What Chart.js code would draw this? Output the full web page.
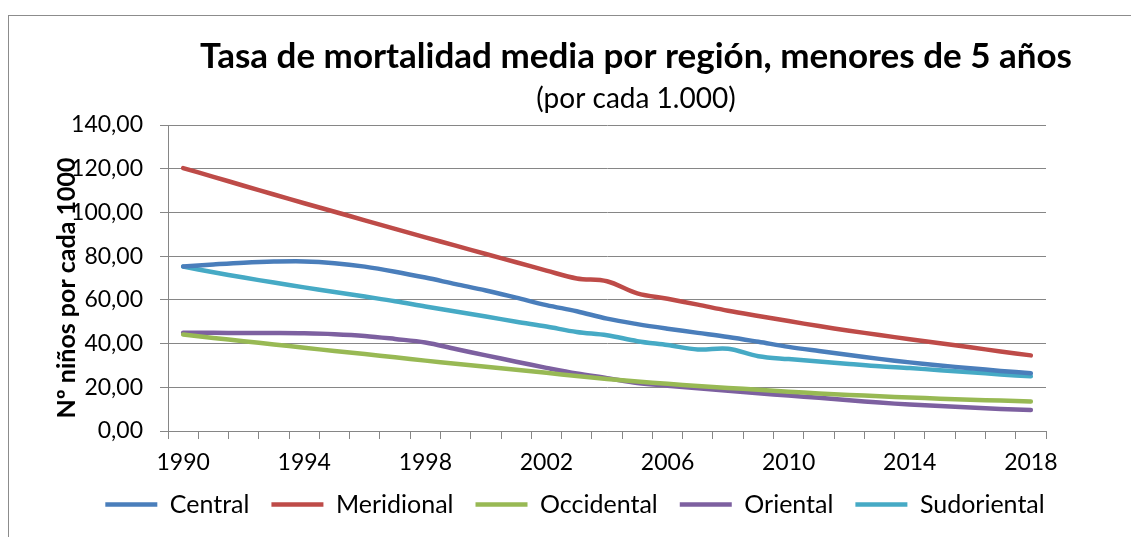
<!DOCTYPE html>
<html>
<head>
<meta charset="utf-8">
<script src="https://cdn.jsdelivr.net/npm/chart.js@4.4.1/dist/chart.umd.min.js"></script>
<style>
  html, body { margin: 0; padding: 0; background: #fff; }
  #wrap { position: relative; width: 1131px; height: 537px; overflow: hidden; }
  #frame { position: absolute; left: 8px; top: 15px; right: -2px; bottom: -2px; border-left: 1px solid #8c8c8c; border-top: 1px solid #8c8c8c; }
  #myChart { position: absolute; left: 0; top: 0; }
</style>
</head>
<body>
<div id="wrap">
  <div id="frame"></div>
  <canvas id="myChart" width="1131" height="537"></canvas>
</div>
<script>
const years = ["1990", "1991", "1992", "1993", "1994", "1995", "1996", "1997", "1998", "1999",
  "2000", "2001", "2002", "2003", "2004", "2005", "2006", "2007", "2008", "2009",
  "2010", "2011", "2012", "2013", "2014", "2015", "2016", "2017", "2018"];
const tickYears = ["1990", "1994", "1998", "2002", "2006", "2010", "2014", "2018"];

const central = [75.3, 76.2, 77.0, 77.5, 77.6, 76.8, 75.2, 72.9, 70.2, 67.2,
  64.3, 61.0, 57.6, 54.8, 51.4, 48.9, 46.8, 44.9, 43.0, 40.8,
  38.5, 36.6, 34.8, 33.0, 31.4, 30.0, 28.7, 27.5, 26.4];
const meridional = [120.3, 116.3, 112.2, 108.2, 104.2, 100.3, 96.4, 92.5, 88.6, 84.8,
  81.0, 77.2, 73.4, 69.8, 68.5, 63.0, 60.5, 57.8, 55.0, 52.6,
  50.3, 48.0, 45.9, 43.9, 42.0, 40.1, 38.3, 36.4, 34.6];
const occidental = [44.1, 42.6, 41.1, 39.6, 38.1, 36.6, 35.2, 33.7, 32.2, 30.8,
  29.4, 28.0, 26.6, 25.2, 23.8, 22.6, 21.6, 20.6, 19.7, 18.9,
  18.0, 17.2, 16.5, 15.9, 15.3, 14.8, 14.3, 13.9, 13.5];
const oriental = [45.0, 44.9, 44.8, 44.8, 44.7, 44.3, 43.5, 42.1, 40.5, 37.5,
  34.6, 31.7, 28.9, 26.3, 24.2, 22.0, 20.7, 19.6, 18.4, 17.3,
  16.2, 15.2, 14.1, 13.0, 12.1, 11.4, 10.7, 10.1, 9.6];
const sudoriental = [75.2, 72.6, 70.2, 67.9, 65.7, 63.6, 61.5, 59.4, 57.0, 54.7,
  52.4, 50.0, 47.8, 45.3, 43.8, 41.1, 39.3, 37.3, 37.6, 34.2,
  32.9, 31.8, 30.7, 29.6, 28.8, 27.8, 26.9, 25.9, 25.0];

const titleText = "Tasa de mortalidad media por región, menores de 5 años";
const subtitleText = "(por cada 1.000)";
const yTitle = "Nº niños por cada 1000";

const FONT = "Lato";
const GREY = "#868686";

function line(label, values, color) {
  return {
    label: label,
    data: values,
    borderColor: color,
    backgroundColor: color,
    borderWidth: 4.5,
    borderCapStyle: "round",
    borderJoinStyle: "round",
    pointRadius: 0,
    tension: 0.35,
    fill: false,
  };
}

const data = {
  labels: years,
  datasets: [
    line("Central", central, "#4A7EBB"),
    line("Meridional", meridional, "#BE4B48"),
    line("Occidental", occidental, "#98B954"),
    line("Oriental", oriental, "#7D60A0"),
    line("Sudoriental", sudoriental, "#46AAC5"),
  ],
};

// titles and rotated y title drawn by hand (Excel places them off-centre)
const textPlugin = {
  id: "texts",
  afterLayout(chart) {
    // the legend sits a bit right of the canvas centre in the original
    const lg = chart.legend;
    const shift = 575 - (lg.left + lg.right) / 2;
    lg.left += shift;
    lg.right += shift;
    lg.top -= 6;
    lg.bottom -= 6;
  },
  afterDraw(chart) {
    const ctx = chart.ctx;
    ctx.save();
    ctx.fillStyle = "#000";
    ctx.textAlign = "center";
    ctx.textBaseline = "alphabetic";
    ctx.font = "bold 35px " + FONT;
    ctx.fillText(titleText, 636, 68);
    ctx.font = "28px " + FONT;
    ctx.fillText(subtitleText, 636, 108);
    ctx.translate(67, 288);
    ctx.rotate(-Math.PI / 2);
    ctx.textBaseline = "middle";
    ctx.font = "bold 25px " + FONT;
    ctx.fillText(yTitle, 0, 0);
    ctx.restore();
  },
};

const config = {
  type: "line",
  data,
  options: {
    responsive: false,
    animation: false,
    layout: {
      padding: { left: 0, right: 85, top: 125, bottom: 4 },
    },
    scales: {
      x: {
        offset: true,
        grid: {
          offset: true,
          drawOnChartArea: false,
          tickLength: 8,
          color: GREY,
        },
        border: { color: GREY },
        ticks: {
          autoSkip: false,
          maxRotation: 0,
          padding: 10,
          color: "#000",
          font: { family: FONT, size: 23 },
          callback: function (value) {
            const lbl = this.getLabelForValue(value);
            return tickYears.includes(lbl) ? lbl : "";
          },
        },
        afterFit: (scale) => {
          scale.height = 45;
        },
      },
      y: {
        min: 0,
        max: 140,
        grid: {
          color: GREY,
          tickLength: 8,
        },
        border: { color: GREY },
        ticks: {
          stepSize: 20,
          padding: 17,
          color: "#000",
          font: { family: FONT, size: 23 },
          callback: (v) => v.toFixed(2).replace(".", ","),
        },
        afterFit: (scale) => {
          scale.width = 168;
        },
      },
    },
    plugins: {
      legend: {
        position: "bottom",
        labels: {
          usePointStyle: true,
          pointStyle: "line",
          pointStyleWidth: 52,
          padding: 22,
          color: "#000",
          font: { family: FONT, size: 25 },
        },
      },
      tooltip: { enabled: false },
    },
  },
  plugins: [textPlugin],
};

const myChart = new Chart(document.getElementById("myChart"), config);
</script>
</body>
</html>
